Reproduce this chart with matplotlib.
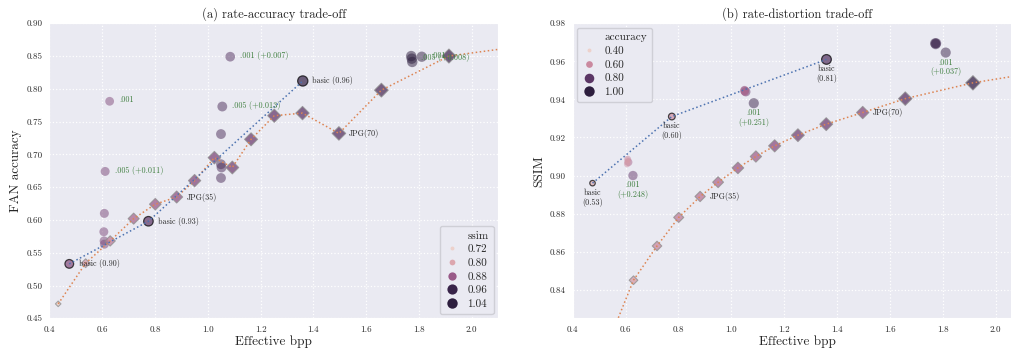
import numpy as np
import matplotlib.pyplot as plt
import seaborn as sns
from matplotlib.lines import Line2D

# JPEG baseline (quality sweep)
jpg_bpp = [0.433, 0.537, 0.630, 0.719, 0.801, 0.882, 0.950, 1.025, 1.093, 1.164, 1.252, 1.359, 1.497, 1.658, 1.914, 2.300]
jpg_acc = [0.472, 0.534, 0.568, 0.602, 0.624, 0.635, 0.660, 0.695, 0.680, 0.723, 0.759, 0.763, 0.732, 0.798, 0.850, 0.871]
jpg_ssim = [0.760, 0.813, 0.845, 0.863, 0.878, 0.889, 0.8965, 0.904, 0.910, 0.9156, 0.9212, 0.927, 0.9331, 0.9404, 0.9487, 0.9574]
jpg_labels = {5: "JPG(35)", 12: "JPG(70)"}

# basic codec
basic_bpp = [0.475, 0.775, 1.360]
basic_acc = [0.533, 0.598, 0.812]
basic_ssim = [0.896, 0.931, 0.961]

# fine-tuned codecs
tuned_bpp = [0.628, 0.611, 0.608, 0.606, 0.607, 0.608,
             1.085, 1.055, 1.050, 1.050, 1.052, 1.050,
             1.811, 1.771, 1.773, 1.775]
tuned_acc = [0.781, 0.674, 0.610, 0.582, 0.568, 0.563,
             0.849, 0.773, 0.731, 0.685, 0.680, 0.664,
             0.849, 0.850, 0.846, 0.841]
tuned_ssim = [0.900, 0.907, 0.9086, 0.906, 0.907, 0.908,
              0.938, 0.944, 0.9446, 0.945, 0.944, 0.944,
              0.9646, 0.9695, 0.969, 0.9695]
tuned_labels_a = {0: ".001", 1: ".005 (+0.011)", 6: ".001 (+0.007)",
                  7: ".005 (+0.013)", 12: ".001", 14: ".005 (+0.008)"}
tuned_labels_b = {0: ".001\n(+0.248)", 6: ".001\n(+0.251)", 12: ".001\n(+0.037)"}

ssim_legend = [0.72, 0.80, 0.88, 0.96, 1.04]
acc_legend = [0.40, 0.60, 0.80, 1.00]

sns.set_style("darkgrid")
plt.rcParams["font.family"] = "cmr10"
plt.rcParams["mathtext.fontset"] = "cm"
plt.rcParams["axes.formatter.use_mathtext"] = True

cmap = sns.cubehelix_palette(as_cmap=True)
S_MIN, S_MAX = 8, 56
GREEN = "#3f7f3f"
TXT = "#2a2a2a"
NOTE_SIZE = 5.8


def make_scale(values):
    lo, hi = min(values), max(values)

    def norm(v):
        return np.clip((np.asarray(v, dtype=float) - lo) / (hi - lo), 0, 1)

    def colors(v):
        return cmap(norm(v))

    def sizes(v):
        return S_MIN + norm(v) * (S_MAX - S_MIN)

    return colors, sizes


def draw_panel(ax, y_jpg, y_basic, y_tuned, h_jpg, h_basic, h_tuned, title, ylabel):
    colors, sizes = make_scale(list(h_jpg) + list(h_basic) + list(h_tuned))

    ax.scatter(tuned_bpp, y_tuned, s=sizes(h_tuned), c=colors(h_tuned),
               alpha=0.5, linewidths=0, marker="o", zorder=2)
    ax.scatter(jpg_bpp, y_jpg, s=sizes(h_jpg), c=colors(h_jpg),
               alpha=0.75, edgecolors="0.55", linewidths=0.8, marker="D", zorder=2)
    ax.scatter(basic_bpp, y_basic, s=sizes(h_basic), c=colors(h_basic),
               alpha=0.7, edgecolors="k", linewidths=0.9, marker="o", zorder=2)

    ax.plot(jpg_bpp, y_jpg, ls=":", color="#dd8452", lw=1.1, zorder=3)
    ax.plot(basic_bpp, y_basic, ls=":", color="#4c72b0", lw=1.1, zorder=3)

    ax.set_xlim(0.4, 2.1)
    ax.set_title(title, fontsize=9, pad=4)
    ax.set_xlabel("Effective bpp", fontsize=9.5, labelpad=1)
    ax.set_ylabel(ylabel, fontsize=9.5, labelpad=3)
    ax.tick_params(axis="both", labelsize=6.5, pad=5, length=0, colors=TXT)
    ax.grid(True, color="white", linestyle=":", linewidth=0.9)
    ax.set_facecolor("#EAEAF2")
    return colors, sizes


def add_legend(ax, title, values, colors, sizes, loc):
    handles = [Line2D([], [], linestyle="", marker="")]
    labels = [title]
    for v in values:
        handles.append(Line2D([], [], linestyle="", marker="o",
                              markersize=np.sqrt(sizes(v)), markerfacecolor=colors(v),
                              markeredgewidth=0))
        labels.append(f"{v:.2f}")
    ax.legend(handles, labels, loc=loc, fontsize=8, frameon=True,
              facecolor="#EAEAF2", edgecolor="#cfcfd6", framealpha=1,
              handletextpad=0.7, borderpad=0.45, handlelength=1.3,
              labelspacing=0.35, borderaxespad=0.4)


fig = plt.figure(figsize=(10.12, 3.51), dpi=100)
ax_a = fig.add_axes([0.0489, 0.0932, 0.4432, 0.8405])
ax_b = fig.add_axes([0.5659, 0.0932, 0.4441, 0.8405])

# (a) accuracy vs bpp, coloured by ssim
col_a, siz_a = draw_panel(ax_a, jpg_acc, basic_acc, tuned_acc, jpg_ssim, basic_ssim, tuned_ssim,
                          "(a) rate-accuracy trade-off", "FAN accuracy")
ax_a.set_ylim(0.45, 0.90)
ax_a.set_yticks(np.arange(0.45, 0.901, 0.05))
ax_a.yaxis.set_major_formatter(plt.FormatStrFormatter("%.2f"))
ax_a.xaxis.set_major_formatter(plt.FormatStrFormatter("%.1f"))
for i, txt in jpg_labels.items():
    ax_a.annotate(txt, (jpg_bpp[i], jpg_acc[i]), xytext=(7, 0), textcoords="offset points",
                  ha="left", va="center", fontsize=NOTE_SIZE, color=TXT)
for x, y, s in zip(basic_bpp, basic_acc, basic_ssim):
    ax_a.annotate(f"basic ({s:.2f})", (x, y), xytext=(7, 0), textcoords="offset points",
                  ha="left", va="center", fontsize=NOTE_SIZE, color=TXT)
for i, txt in tuned_labels_a.items():
    ax_a.annotate(txt, (tuned_bpp[i], tuned_acc[i]), xytext=(7, 1), textcoords="offset points",
                  ha="left", va="center", fontsize=NOTE_SIZE, color=GREEN)
add_legend(ax_a, "ssim", ssim_legend, col_a, siz_a, "lower right")

# (b) ssim vs bpp, coloured by accuracy
col_b, siz_b = draw_panel(ax_b, jpg_ssim, basic_ssim, tuned_ssim, jpg_acc, basic_acc, tuned_acc,
                          "(b) rate-distortion trade-off", "SSIM")
ax_b.set_ylim(0.825, 0.98)
ax_b.set_yticks(np.arange(0.84, 0.981, 0.02))
ax_b.yaxis.set_major_formatter(plt.FormatStrFormatter("%.2f"))
ax_b.xaxis.set_major_formatter(plt.FormatStrFormatter("%.1f"))
for i, txt in jpg_labels.items():
    ax_b.annotate(txt, (jpg_bpp[i], jpg_ssim[i]), xytext=(7, 0), textcoords="offset points",
                  ha="left", va="center", fontsize=NOTE_SIZE, color=TXT)
for x, y, a in zip(basic_bpp, basic_ssim, basic_acc):
    ax_b.annotate(f"basic\n({a:.2f})", (x, y), xytext=(0, -4), textcoords="offset points",
                  ha="center", va="top", fontsize=NOTE_SIZE, color=TXT, linespacing=1.1)
for i, txt in tuned_labels_b.items():
    ax_b.annotate(txt, (tuned_bpp[i], tuned_ssim[i]), xytext=(0, -4), textcoords="offset points",
                  ha="center", va="top", fontsize=NOTE_SIZE, color=GREEN, linespacing=1.1)
add_legend(ax_b, "accuracy", acc_legend, col_b, siz_b, "upper left")

fig.savefig("out.png", dpi=100)
